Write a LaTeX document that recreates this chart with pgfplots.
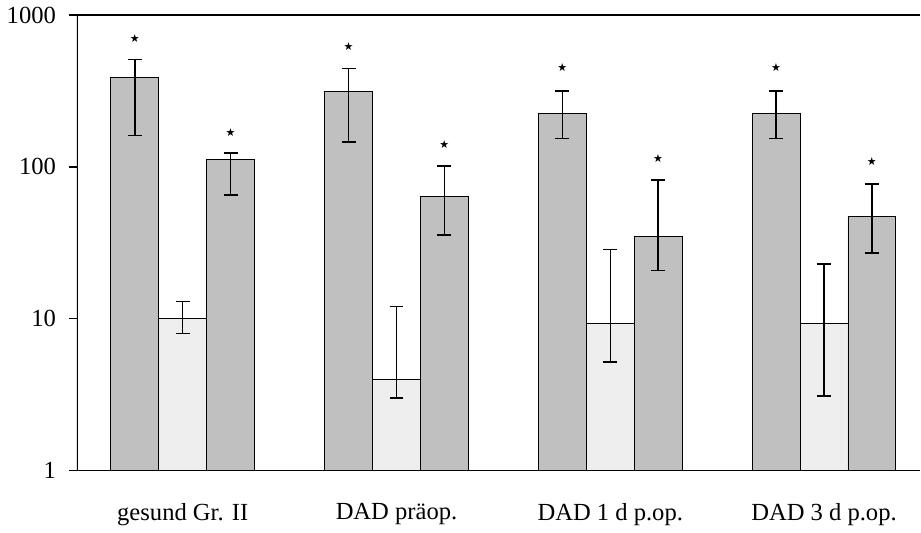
\documentclass[border=0pt]{standalone}
\usepackage{fontspec}
\setmainfont{Liberation Serif}
\newfontfamily\starfont{DejaVu Sans}
\usepackage{pgfplots}
\pgfplotsset{compat=1.18}
\usepackage{pgfplotstable}

\definecolor{bardark}{RGB}{192,192,192}
\definecolor{barlight}{RGB}{238,238,238}

% x  y  ep  em
\pgfplotstableread{
x y ep em
0 387 123 226
1 313 130 167
2 226 90 72
3 226 90 72
}\serA
\pgfplotstableread{
x y ep em
0 10 3 2
1 4 8 1
2 9.3 19.2 4.1
3 9.3 13.7 6.2
}\serB
\pgfplotstableread{
x y ep em
0 111 12 46
1 64 37 28.5
2 35 47 14.3
3 47 30 20
}\serC

\begin{document}
\begin{tikzpicture}
\begin{axis}[
  scale only axis,
  width=422pt, height=228pt,
  ymode=log, ymin=1, ymax=1000,
  xmin=-0.495, xmax=3.45,
  separate axis lines,
  x axis line style={line width=0.8pt},
  y axis line style={draw=none},
  ytick={1,10,100,1000},
  yticklabels={1,10,100,1000},
  yminorticks=false,
  ytick pos=left,
  tick align=outside,
  major tick length=4pt,
  ytick style={draw=black, line width=0.8pt},
  every major y tick/.style={draw=black, line width=0.8pt},
  yticklabel style={xshift=-3pt},
  xtick={0,1,2,3},
  xticklabels={gesund Gr. II, DAD präop., DAD 1 d p.op., DAD 3 d p.op.},
  xtick style={draw=none},
  xticklabel style={yshift=-9pt},
  tick label style={font=\fontsize{12.3}{14}\selectfont},
  /pgf/number format/assume math mode=true,
  ybar, bar width=0.224, bar shift=0pt,
  error bars/error bar style={line width=0.75pt, black},
  error bars/error mark options={rotate=90, mark size=3.5pt, line width=0.75pt, black},
]
\addplot[fill=bardark, draw=black, line width=0.45pt,
  error bars/.cd, y dir=both, y explicit]
  table[x expr=\thisrow{x}-0.224, y=y, y error plus=ep, y error minus=em] {\serA};
\addplot[fill=barlight, draw=black, line width=0.45pt,
  error bars/.cd, y dir=both, y explicit]
  table[x=x, y=y, y error plus=ep, y error minus=em] {\serB};
\addplot[fill=bardark, draw=black, line width=0.45pt,
  error bars/.cd, y dir=both, y explicit]
  table[x expr=\thisrow{x}+0.224, y=y, y error plus=ep, y error minus=em] {\serC};
% significance stars
\addplot[sharp plot, only marks, black, mark=text, text mark={\starfont\fontsize{5.5}{6}\selectfont ★}]
  coordinates {
  (-0.224,698) (0.224,168)
  (0.776,618) (1.224,141)
  (1.776,450) (2.224,113)
  (2.776,450) (3.224,108)
};
% left axis line (the right one is not drawn)
\draw[line width=0.8pt] (rel axis cs:0,0) -- (rel axis cs:0,1);
\end{axis}
\path (current axis.south west) ++(-38.5pt,0);
\end{tikzpicture}
\end{document}
